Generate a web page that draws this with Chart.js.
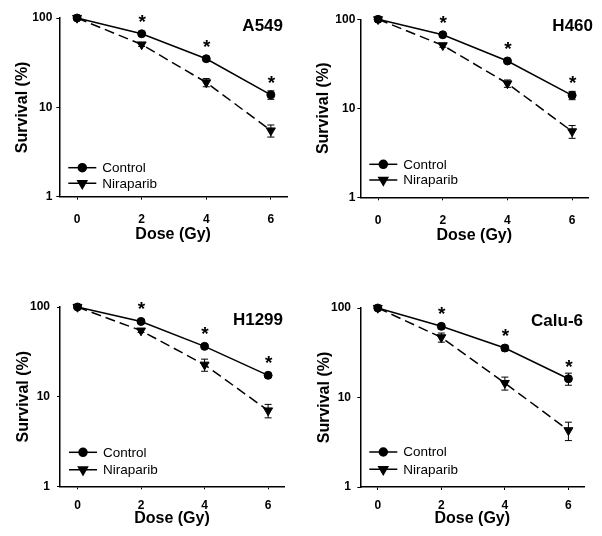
<!DOCTYPE html>
<html><head><meta charset="utf-8">
<script src="https://cdn.jsdelivr.net/npm/chart.js@4.4.0/dist/chart.umd.min.js"></script>
<style>
html,body{margin:0;padding:0;background:#fff;}
#wrap{position:relative;width:602px;height:536px;background:#fff;}
canvas{position:absolute;}
</style></head><body>
<div id="wrap">
<canvas id="c0" width="301" height="268" style="left:0px;top:0px"></canvas>
<canvas id="c1" width="301" height="268" style="left:301px;top:0px"></canvas>
<canvas id="c2" width="301" height="268" style="left:0px;top:268px"></canvas>
<canvas id="c3" width="301" height="268" style="left:301px;top:268px"></canvas>
</div>
<script>
// ---- data ----
const doses = [0, 2, 4, 6];
const xTickValues = [0, 2, 4, 6];
const yTickValues = [1, 10, 100];
const cellLines = ['A549', 'H460', 'H1299', 'Calu-6'];
const seriesNames = ['Control', 'Niraparib'];
const xTitle = 'Dose (Gy)';
const yTitle = 'Survival (%)';
const significant = [false, true, true, true];

const a549Control     = [100, 66.6, 35.0, 13.8];
const a549ControlErr  = [2.5, 3.0, 2.0, 1.5];
const a549Nira        = [100, 50.5, 19.0, 5.5];
const a549NiraErr     = [2.0, 2.5, 2.0, 0.85];

const h460Control     = [100, 67.0, 34.0, 14.0];
const h460ControlErr  = [2.0, 2.5, 2.0, 1.5];
const h460Nira        = [100, 51.0, 19.0, 5.5];
const h460NiraErr     = [2.0, 2.5, 1.8, 0.9];

const h1299Control    = [100, 69.0, 36.4, 17.3];
const h1299ControlErr = [3.0, 3.0, 2.0, 0.8];
const h1299Nira       = [100, 54.5, 22.7, 7.0];
const h1299NiraErr    = [3.0, 2.5, 3.5, 1.2];

const calu6Control    = [100, 62.4, 35.7, 16.2];
const calu6ControlErr = [3.0, 4.0, 2.5, 2.5];
const calu6Nira       = [100, 47.0, 14.5, 4.3];
const calu6NiraErr    = [3.0, 5.5, 2.4, 1.0];

const controlSeries = [a549Control, h460Control, h1299Control, calu6Control];
const controlErrors = [a549ControlErr, h460ControlErr, h1299ControlErr, calu6ControlErr];
const niraSeries    = [a549Nira, h460Nira, h1299Nira, calu6Nira];
const niraErrors    = [a549NiraErr, h460NiraErr, h1299NiraErr, calu6NiraErr];

// ---- layout (pixel placement per panel) ----
const W = 301, H = 268;
const layouts = [
  {L:59.3, T:18,   R:287,   B:196.7, yTitlePad:13.4, xTitlePad:23.4, xTickPad:12.4, yTickPad:4,   labR:283, labY:26.7, leg1:29, leg2:13.4},
  {L:59.3, T:19.3, R:287.3, B:197.3, yTitlePad:12.7, xTitlePad:22.7, xTickPad:13.2, yTickPad:2,   labR:292, labY:26.7, leg1:33, leg2:17.3},
  {L:60,   T:39,   R:284,   B:218.3, yTitlePad:14.1, xTitlePad:8.1,  xTickPad:9.2,  yTickPad:7,   labR:283, labY:52.7, leg1:34, leg2:16.6},
  {L:59.3, T:40,   R:283.3, B:219,   yTitlePad:14.4, xTitlePad:7.4,  xTickPad:8.5,  yTickPad:6.3, labR:282, labY:53.3, leg1:35, leg2:17.7}
];

const FONT = "'Liberation Sans', Arial, Helvetica, sans-serif";
Chart.defaults.font.family = FONT;
Chart.defaults.color = '#000';

const extrasPlugin = {
  id: 'extras',
  beforeDatasetsDraw(chart) {
    const ctx = chart.ctx, xs = chart.scales.x, ys = chart.scales.y;
    const p = chart.options.plugins.extras;
    ctx.save();
    ctx.strokeStyle = '#000';
    ctx.lineWidth = 1;
    [[p.control, p.controlErr], [p.nira, p.niraErr]].forEach(([vals, errs]) => {
      vals.forEach((v, i) => {
        const x = xs.getPixelForValue(doses[i]);
        const y1 = ys.getPixelForValue(v + errs[i]);
        const y2 = ys.getPixelForValue(Math.max(v - errs[i], 0.01));
        ctx.beginPath();
        ctx.moveTo(x, y1); ctx.lineTo(x, y2);
        ctx.moveTo(x - 3.5, y1); ctx.lineTo(x + 3.5, y1);
        ctx.moveTo(x - 3.5, y2); ctx.lineTo(x + 3.5, y2);
        ctx.stroke();
      });
    });
    ctx.restore();
  },
  afterDraw(chart) {
    const ctx = chart.ctx, xs = chart.scales.x, ys = chart.scales.y;
    const p = chart.options.plugins.extras;
    const lay = p.layout, area = chart.chartArea;
    ctx.save();
    // asterisks
    ctx.fillStyle = '#000';
    ctx.font = 'bold 19px ' + FONT;
    ctx.textAlign = 'center';
    ctx.textBaseline = 'alphabetic';
    p.control.forEach((v, i) => {
      if (!significant[i]) return;
      const x = xs.getPixelForValue(doses[i]);
      const y = ys.getPixelForValue(v) - 18;
      ctx.fillText('*', x + 0.5, y + 12);
    });
    // panel label
    ctx.font = 'bold 17px ' + FONT;
    ctx.textAlign = 'right';
    ctx.textBaseline = 'middle';
    ctx.fillText(p.label, lay.labR, lay.labY);
    // legend
    const lx0 = area.left + 9, lx1 = area.left + 37, mx = area.left + 23, tx = area.left + 43;
    const rows = [
      {y: area.bottom - lay.leg1, name: seriesNames[0], dash: [], style: 'circle', r: 4, rot: 0},
      {y: area.bottom - lay.leg2, name: seriesNames[1], dash: [11, 6], style: 'triangle', r: 5.2, rot: 180}
    ];
    rows.forEach(r => {
      ctx.strokeStyle = '#000';
      ctx.lineWidth = 1.5;
      ctx.setLineDash(r.dash);
      ctx.beginPath(); ctx.moveTo(lx0, r.y); ctx.lineTo(lx1, r.y); ctx.stroke();
      ctx.setLineDash([]);
      ctx.fillStyle = '#000';
      Chart.helpers.drawPoint(ctx, {pointStyle: r.style, rotation: r.rot, radius: r.r, borderWidth: 1}, mx, r.y);
      ctx.font = '13.5px ' + FONT;
      ctx.textAlign = 'left';
      ctx.textBaseline = 'middle';
      ctx.fillText(r.name, tx, r.y + 0.5);
    });
    ctx.restore();
  }
};

cellLines.forEach((name, k) => {
  const lay = layouts[k];
  new Chart(document.getElementById('c' + k), {
    type: 'line',
    data: {
      datasets: [
        {
          label: seriesNames[0],
          data: doses.map((d, i) => ({x: d, y: controlSeries[k][i]})),
          borderColor: '#000', backgroundColor: '#000', borderWidth: 1.5,
          pointStyle: 'circle', pointRadius: 4, pointBorderWidth: 1,
          pointBackgroundColor: '#000', pointBorderColor: '#000',
          tension: 0, clip: false
        },
        {
          label: seriesNames[1],
          data: doses.map((d, i) => ({x: d, y: niraSeries[k][i]})),
          borderColor: '#000', backgroundColor: '#000', borderWidth: 1.5,
          borderDash: [10, 5],
          pointStyle: 'triangle', pointRotation: 180, pointRadius: 5.2, pointBorderWidth: 1,
          pointBackgroundColor: '#000', pointBorderColor: '#000',
          tension: 0, clip: false
        }
      ]
    },
    options: {
      responsive: false,
      animation: false,
      events: [],
      layout: {padding: {left: 0, top: lay.T, right: W - lay.R, bottom: 0}},
      plugins: {
        legend: {display: false},
        tooltip: {enabled: false},
        extras: {
          label: name, layout: lay,
          control: controlSeries[k], controlErr: controlErrors[k],
          nira: niraSeries[k], niraErr: niraErrors[k]
        }
      },
      scales: {
        x: {
          type: 'linear', min: -0.55, max: 6.5,
          afterBuildTicks: s => { s.ticks = xTickValues.map(v => ({value: v})); },
          afterFit: s => { s.height = H - lay.B; },
          grid: {display: true, drawOnChartArea: false, drawTicks: true, tickLength: 3, color: '#000', lineWidth: 1},
          border: {display: true, color: '#000', width: 1.5},
          ticks: {padding: lay.xTickPad, font: {size: 12, weight: 'bold'}, color: '#000', maxRotation: 0, callback: v => String(v)},
          title: {display: true, text: xTitle, font: {size: 16, weight: 'bold'}, color: '#000', padding: {top: 0, bottom: lay.xTitlePad}}
        },
        y: {
          type: 'logarithmic', min: 1, max: 100,
          afterBuildTicks: s => { s.ticks = yTickValues.map(v => ({value: v})); },
          afterFit: s => { s.width = lay.L; },
          grid: {display: true, drawOnChartArea: false, drawTicks: true, tickLength: 3, color: '#000', lineWidth: 1},
          border: {display: true, color: '#000', width: 1.5},
          ticks: {padding: lay.yTickPad, font: {size: 12, weight: 'bold'}, color: '#000', callback: v => String(v)},
          title: {display: true, text: yTitle, font: {size: 16, weight: 'bold'}, color: '#000', padding: {top: lay.yTitlePad, bottom: 0}}
        }
      }
    },
    plugins: [extrasPlugin]
  });
});
</script>
</body></html>
